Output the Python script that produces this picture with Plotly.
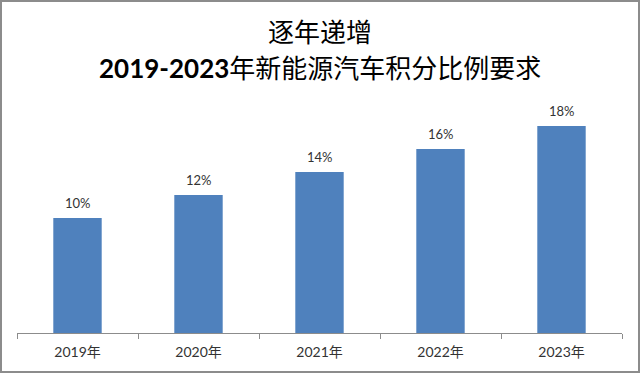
import plotly.graph_objects as go

categories = ["2019年", "2020年", "2021年", "2022年", "2023年"]
values = [10, 12, 14, 16, 18]
value_labels = ["10%", "12%", "14%", "16%", "18%"]
title_line1 = "逐年递增"
title_line2_num = "2019-2023"
title_line2_txt = "年新能源汽车积分比例要求"

W, H = 640, 373
L, R, T, B = 17, 18, 103, 40
PW, PH = W - L - R, H - T - B

def px(x):
    return (x - L) / PW

def py(y):
    return (H - B - y) / PH

fig = go.Figure()
fig.add_trace(go.Bar(
    x=categories, y=values,
    marker=dict(color="#4F81BD", line=dict(width=0)),
    hoverinfo="skip",
))

for c, v, t in zip(categories, values, value_labels):
    fig.add_annotation(
        x=c, y=v, text=t, showarrow=False, yanchor="middle", yshift=15,
        font=dict(family="Lato, Noto Sans CJK SC", size=13, color="#333333"),
    )

fig.update_layout(
    width=W, height=H,
    margin=dict(l=L, r=R, t=T, b=B),
    paper_bgcolor="white", plot_bgcolor="white",
    showlegend=False, bargap=0.6,
    xaxis=dict(
        showline=True, linecolor="#8c8c8c", linewidth=1,
        ticks="outside", tickson="boundaries", ticklen=5, tickcolor="#8c8c8c",
        tickfont=dict(family="Lato, Noto Sans CJK SC", size=14, color="#333333"),
        ticklabelstandoff=6,
        showgrid=False, zeroline=False,
    ),
    yaxis=dict(range=[0, 20], visible=False, showgrid=False, zeroline=False),
    font=dict(family="Lato, Noto Sans CJK SC"),
)

fig.add_annotation(
    xref="paper", yref="paper", x=px(320), y=py(30),
    text=title_line1, showarrow=False, xanchor="center", yanchor="middle",
    font=dict(family="Noto Sans CJK SC", size=26, color="#000000"),
)
fig.add_annotation(
    xref="paper", yref="paper", x=px(320), y=py(68),
    text="<b>" + title_line2_num + "</b>" + title_line2_txt, showarrow=False,
    xanchor="center", yanchor="middle",
    font=dict(family="Lato, Noto Sans CJK SC", size=26, color="#000000"),
)

fig.add_shape(
    type="rect", xref="paper", yref="paper",
    x0=px(1), x1=px(639), y0=py(372), y1=py(1),
    line=dict(color="#8c8c8c", width=2), fillcolor="rgba(0,0,0,0)", layer="below",
)

fig.write_html(
    "out.html",
    config={"displayModeBar": False},
    post_script="document.body.style.margin='0';document.body.style.padding='0';document.body.style.overflow='hidden';",
)
